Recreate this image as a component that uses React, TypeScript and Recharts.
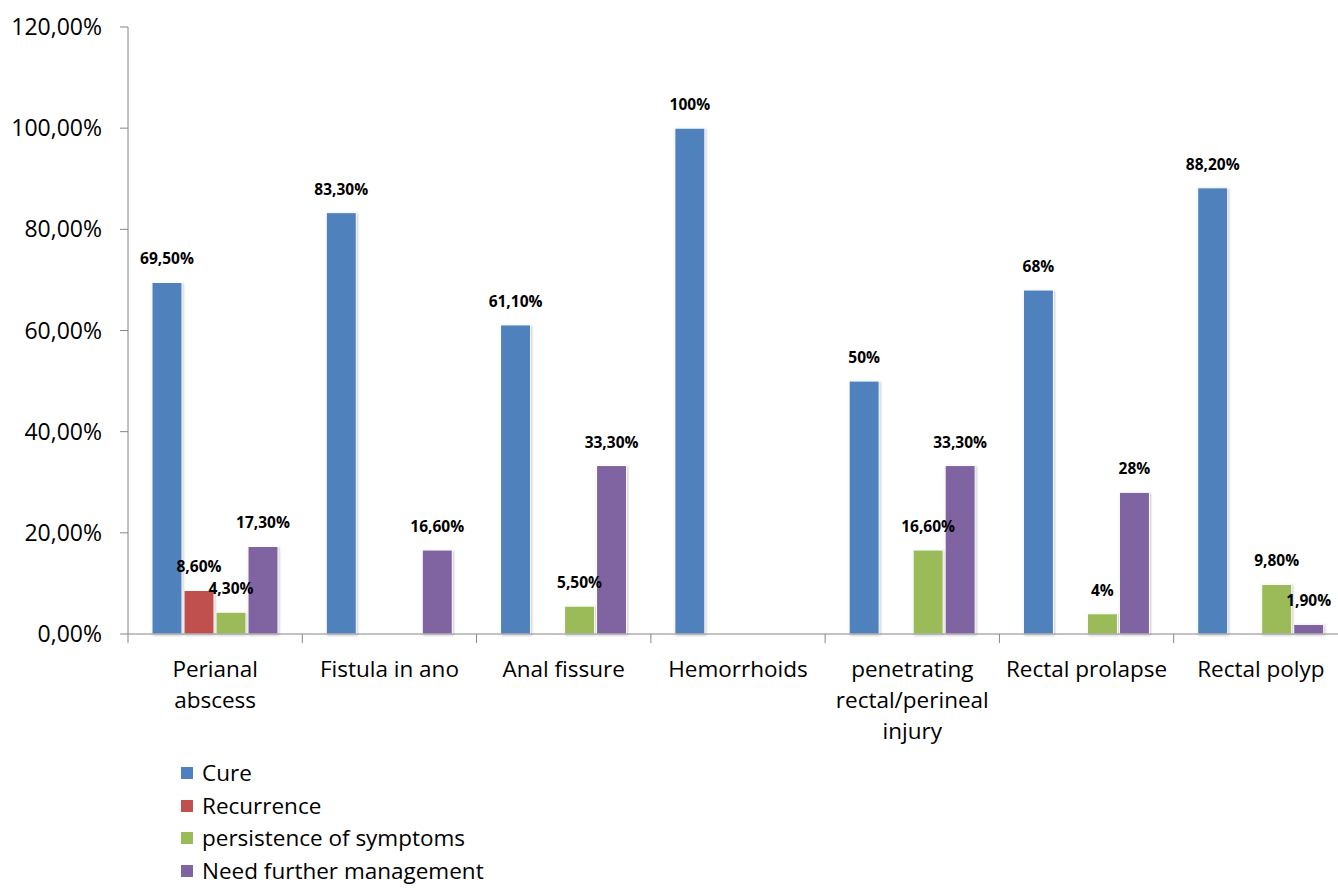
import React from "react";
import { BarChart, Bar, XAxis, YAxis, LabelList } from "recharts";

// Conditions treated, with the line breaks used under the axis
const categories = [
  "Perianal abscess",
  "Fistula in ano",
  "Anal fissure",
  "Hemorrhoids",
  "penetrating rectal/perineal injury",
  "Rectal prolapse",
  "Rectal polyp",
];
const categoryLines = [
  ["Perianal", "abscess"],
  ["Fistula in ano"],
  ["Anal fissure"],
  ["Hemorrhoids"],
  ["penetrating", "rectal/perineal", "injury"],
  ["Rectal prolapse"],
  ["Rectal polyp"],
];

// Outcome percentages per condition (null = not reported)
const cure = [69.5, 83.3, 61.1, 100, 50, 68, 88.2];
const recurrence = [8.6, null, null, null, null, null, null];
const persistence = [4.3, null, 5.5, null, 16.6, 4, 9.8];
const furtherManagement = [17.3, 16.6, 33.3, null, 33.3, 28, 1.9];

// Value labels as printed above each bar
const cureLabels = ["69,50%", "83,30%", "61,10%", "100%", "50%", "68%", "88,20%"];
const recurrenceLabels = ["8,60%", null, null, null, null, null, null];
const persistenceLabels = ["4,30%", null, "5,50%", null, "16,60%", "4%", "9,80%"];
const furtherManagementLabels = ["17,30%", "16,60%", "33,30%", null, "33,30%", "28%", "1,90%"];

const yTicks = [0, 20, 40, 60, 80, 100, 120];

const series = [
  { key: "cure", name: "Cure", color: "#4F81BD", values: cure, labels: cureLabels },
  { key: "recurrence", name: "Recurrence", color: "#C0504D", values: recurrence, labels: recurrenceLabels },
  { key: "persistence", name: "persistence of symptoms", color: "#9BBB59", values: persistence, labels: persistenceLabels },
  { key: "further", name: "Need further management", color: "#8064A2", values: furtherManagement, labels: furtherManagementLabels },
];

const data = categories.map((name, i) => {
  const row: Record<string, any> = { name, index: i };
  series.forEach((s) => {
    row[s.key] = s.values[i];
    row[s.key + "Label"] = s.labels[i];
  });
  return row;
});

const FONT = "'Open Sans', sans-serif";
const AXIS_COLOR = "#868686";

const CategoryTick = (props: any) => {
  const { x, y, payload, index } = props;
  const half = payload && typeof payload.offset === "number" && payload.offset > 0 ? payload.offset : 87.1;
  const lines = categoryLines[index] ?? [String(payload.value)];
  return (
    <g>
      <line x1={x - half} x2={x - half} y1={y} y2={y + 9} stroke={AXIS_COLOR} strokeWidth={1} />
      {index === categories.length - 1 && (
        <line x1={x + half} x2={x + half} y1={y} y2={y + 9} stroke={AXIS_COLOR} strokeWidth={1} />
      )}
      <text x={x} y={y + 43} textAnchor="middle" fill="#000" fontSize={22.5} fontFamily={FONT}>
        {lines.map((ln, i) => (
          <tspan key={i} x={x} dy={i === 0 ? 0 : 31}>
            {ln}
          </tspan>
        ))}
      </text>
    </g>
  );
};

const ValueLabel = (props: any) => {
  const { x, y, width, value } = props;
  if (value === null || value === undefined || value === "") return null;
  return (
    <text
      x={x + width / 2}
      y={y - 18}
      textAnchor="middle"
      fill="#000"
      fontSize={15.5}
      fontWeight={700}
      fontFamily={FONT}
    >
      {value}
    </text>
  );
};

export default function App() {
  return (
    <div
      style={{
        position: "absolute",
        left: 0,
        top: 0,
        width: 1338,
        height: 888,
        overflow: "hidden",
        background: "#fff",
      }}
    >
      <style>{`.recharts-bar-rectangle path { filter: drop-shadow(1px 1px 1.2px rgba(0,0,0,0.22)); }`}</style>
      <BarChart
        width={1348}
        height={888}
        data={data}
        margin={{ top: 27, right: 0, bottom: 0, left: 0 }}
        barCategoryGap={24}
        barGap={2}
      >
        <YAxis
          width={128}
          domain={[0, 120]}
          ticks={yTicks}
          interval={0}
          tickFormatter={(v: number) => `${v},00%`}
          axisLine={{ stroke: AXIS_COLOR }}
          tickLine={{ stroke: AXIS_COLOR }}
          tickSize={8}
          tickMargin={18}
          tick={{ fill: "#000", fontSize: 23, fontFamily: FONT }}
        />
        <XAxis
          dataKey="name"
          height={254}
          interval={0}
          axisLine={{ stroke: AXIS_COLOR }}
          tickLine={false}
          tickSize={0}
          tickMargin={0}
          tick={<CategoryTick />}
        />
        {series.map((s) => (
          <Bar
            key={s.key}
            dataKey={s.key}
            name={s.name}
            fill={s.color}
            stroke="#ffffff"
            strokeWidth={1}
            isAnimationActive={false}
          >
            <LabelList dataKey={s.key + "Label"} content={<ValueLabel />} />
          </Bar>
        ))}
      </BarChart>
      <div
        style={{
          position: "absolute",
          left: 181,
          top: 757,
          fontFamily: FONT,
          fontSize: 22.5,
          color: "#000",
        }}
      >
        {series.map((s) => (
          <div key={s.key} style={{ display: "flex", alignItems: "center", height: 32.5 }}>
            <span style={{ display: "inline-block", width: 12, height: 12, background: s.color, marginRight: 9 }} />
            <span style={{ lineHeight: "32.5px" }}>{s.name}</span>
          </div>
        ))}
      </div>
    </div>
  );
}
